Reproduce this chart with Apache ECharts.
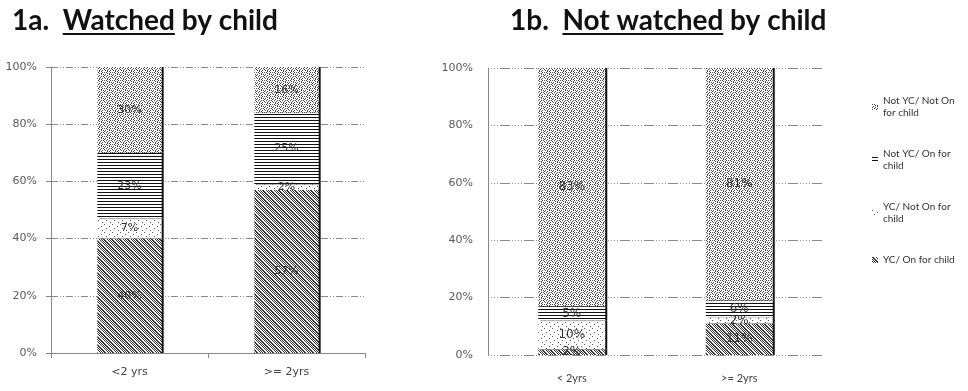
<!DOCTYPE html>
<html>
<head>
<meta charset="utf-8">
<script src="https://cdn.jsdelivr.net/npm/echarts@6/dist/echarts.min.js"></script>
<style>
  html, body { margin: 0; padding: 0; background: #fff; }
  #chart { width: 968px; height: 391px; }
</style>
</head>
<body>
<div id="chart"></div>
<script>
// categories
const catsWatched = ['<2 yrs', '>= 2yrs'];
const catsNotWatched = ['< 2yrs', '>= 2yrs'];

// series, in stack order (bottom to top)
const seriesNames = ['YC/ On for child', 'YC/ Not On for child', 'Not YC/ On for child', 'Not YC/ Not On for child'];
const legendLabels = ['YC/ On for child', 'YC/ Not On for\nchild', 'Not YC/ On for\nchild', 'Not YC/ Not On\nfor child'];

// 1a. watched by child (%)
const watchedYcOn = [40, 57];
const watchedYcNotOn = [7, 2];
const watchedNotYcOn = [23, 25];
const watchedNotYcNotOn = [30, 16];

// 1b. not watched by child (%)
const notWatchedYcOn = [2, 11];
const notWatchedYcNotOn = [10, 2];
const notWatchedNotYcOn = [5, 6];
const notWatchedNotYcNotOn = [83, 81];

const yMax = 100;
const yStep = 20;

// little bitmap fills standing in for the excel hatch patterns
function makePattern(rows, ink) {
  const h = rows.length, w = rows[0].length;
  const c = document.createElement('canvas');
  c.width = w; c.height = h;
  const ctx = c.getContext('2d');
  ctx.fillStyle = '#fff';
  ctx.fillRect(0, 0, w, h);
  ctx.fillStyle = ink;
  rows.forEach((r, y) => {
    for (let x = 0; x < w; x++) if (r[x] === 'x') ctx.fillRect(x, y, 1, 1);
  });
  return { image: c, repeat: 'repeat' };
}

const patWeave = makePattern([
  'xx..x.x.',
  '.xx..x.x',
  'x.xx..x.',
  '.x.xx..x',
  'x.x.xx..',
  '.x.x.xx.',
  '..x.x.xx',
  'x..x.x.x'
], '#333');
const patSparse = makePattern([
  'x.......',
  '........',
  '.....x..',
  '........',
  '..x.....',
  '........',
  '......x.',
  '........'
], '#555');
const patStripes = makePattern([
  'xxxx',
  '....',
  '....'
], '#111');
const patDots = makePattern([
  'x.x...x.',
  '...x.x..',
  '.x...x.x',
  'x..x....',
  '..x..x.x',
  'x...x...',
  '.x.x..x.',
  '...x.x..'
], '#444');
const patterns = [patWeave, patSparse, patStripes, patDots];

const watchedData = [watchedYcOn, watchedYcNotOn, watchedNotYcOn, watchedNotYcNotOn];
const notWatchedData = [notWatchedYcOn, notWatchedYcNotOn, notWatchedNotYcOn, notWatchedNotYcNotOn];

function makeBars(dataSets, gi, barWidth, fontSize) {
  return dataSets.map((d, i) => ({
    name: seriesNames[i],
    type: 'bar',
    stack: 'g' + gi,
    xAxisIndex: gi,
    yAxisIndex: gi,
    barWidth: barWidth,
    data: d,
    itemStyle: {
      color: patterns[i],
      shadowColor: '#111',
      shadowOffsetX: 2,
      shadowBlur: 0
    },
    label: {
      show: true,
      position: 'inside',
      formatter: (p) => p.value + '%',
      color: '#333',
      fontFamily: 'DejaVu Sans',
      fontSize: fontSize
    },
    emphasis: { disabled: true }
  }));
}

function textWidth(font, s) {
  const ctx = document.createElement('canvas').getContext('2d');
  ctx.font = font;
  return ctx.measureText(s).width;
}

const titleFont = 'bold 28px Lato';
const pre1 = '1a.  ', u1 = 'Watched', post1 = ' by child';
const pre2 = '1b.  ', u2 = 'Not watched', post2 = ' by child';

const chart = echarts.init(document.getElementById('chart'));

const yLabel = (margin) => ({
  formatter: '{value}%',
  color: '#595959',
  fontFamily: 'DejaVu Sans',
  fontSize: 11,
  margin: margin
});

const option = {
  animation: false,
  graphic: [
    { type: 'text', x: 12, y: 21, style: { text: pre1 + u1 + post1, font: titleFont, fill: '#111', verticalAlign: 'middle' } },
    { type: 'rect', shape: { x: 12 + textWidth(titleFont, pre1), y: 33, width: textWidth(titleFont, u1), height: 2 }, style: { fill: '#111' } },
    { type: 'text', x: 510, y: 21, style: { text: pre2 + u2 + post2, font: titleFont, fill: '#111', verticalAlign: 'middle' } },
    { type: 'rect', shape: { x: 510 + textWidth(titleFont, pre2), y: 33, width: textWidth(titleFont, u2), height: 2 }, style: { fill: '#111' } }
  ],
  legend: {
    orient: 'vertical',
    left: 867,
    top: 90,
    itemWidth: 6,
    itemHeight: 6,
    itemGap: 29,
    icon: 'rect',
    selectedMode: false,
    data: seriesNames.slice().reverse(),
    formatter: (name) => legendLabels[seriesNames.indexOf(name)],
    textStyle: { fontFamily: 'Lato', fontSize: 10, color: '#333', lineHeight: 12 }
  },
  grid: [
    { left: 51, top: 67, width: 314, height: 286 },
    { left: 488, top: 68, width: 335, height: 287 }
  ],
  xAxis: [
    {
      type: 'category',
      gridIndex: 0,
      data: catsWatched,
      axisLine: { lineStyle: { color: '#868686' } },
      axisTick: { show: true, length: 5, lineStyle: { color: '#868686' } },
      axisLabel: { color: '#404040', fontFamily: 'DejaVu Sans', fontSize: 11, margin: 14 }
    },
    {
      type: 'category',
      gridIndex: 1,
      data: catsNotWatched,
      axisLine: { show: false },
      axisTick: { show: false },
      axisLabel: { color: '#404040', fontFamily: 'Lato', fontSize: 11, margin: 18 }
    }
  ],
  yAxis: [
    {
      type: 'value',
      gridIndex: 0,
      min: 0, max: yMax, interval: yStep,
      axisLine: { show: true, lineStyle: { color: '#868686' } },
      axisTick: { show: true, length: 5, lineStyle: { color: '#868686' } },
      axisLabel: yLabel(14),
      splitLine: { lineStyle: { color: '#888', type: [7, 2, 1, 2, 1, 2] } }
    },
    {
      type: 'value',
      gridIndex: 1,
      min: 0, max: yMax, interval: yStep,
      axisLine: { show: true, lineStyle: { color: '#868686' } },
      axisTick: { show: false },
      axisLabel: yLabel(15),
      splitLine: { lineStyle: { color: '#888', type: [1, 2, 1, 2, 1, 2, 1, 2, 10, 2] } }
    }
  ],
  series: [
    ...makeBars(watchedData, 0, '41%', 11),
    ...makeBars(notWatchedData, 1, '40%', 12)
  ]
};

chart.setOption(option);
</script>
</body>
</html>
